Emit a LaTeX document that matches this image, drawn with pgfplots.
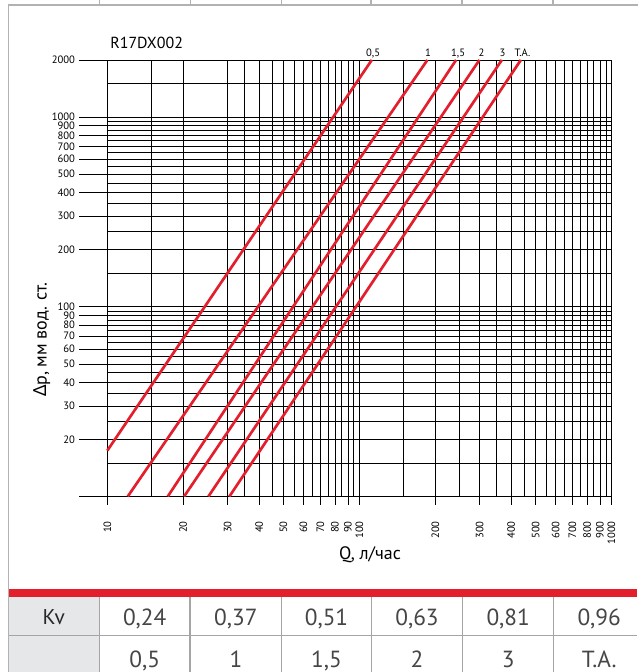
\documentclass[border=0pt]{standalone}
\usepackage{fontspec}
\setmainfont{PT Sans}
\newfontfamily\greekfont{Noto Sans}
\newfontfamily\lightfont{PT Sans}
\usepackage{pgfplots}
\pgfplotsset{compat=1.18}
\definecolor{cred}{RGB}{227,30,45}
\definecolor{framegray}{RGB}{178,178,178}
\definecolor{tsep}{RGB}{165,165,165}
\definecolor{tbg}{RGB}{230,231,233}
\definecolor{ttext}{RGB}{40,40,40}
\definecolor{tlight}{RGB}{70,70,70}
\newcommand\tickfont{\fontsize{8}{8}\selectfont}
\begin{document}
\begin{tikzpicture}[x=0.75pt,y=0.75pt]
\useasboundingbox (0,0) rectangle (637,672);
\fill[white] (0,0) rectangle (637,672);
% frame
\draw[framegray, line width=1.1pt] (8.3,0) -- (8.3,667) -- (640,667);
\foreach \xx in {99.3,190.7,281.7,371,462,553} \draw[framegray, line width=0.8pt] (\xx,667) -- (\xx,672);
% title
\node[anchor=base west, inner sep=0pt, font=\fontsize{12}{12}\selectfont] at (110,623.7) {R17DX002};
\begin{axis}[
  at={(80.475pt,131.625pt)}, anchor=south west,
  scale only axis, width=378.15pt, height=327.4pt,
  xmode=log, ymode=log,
  xmin=10, xmax=1000, ymin=10, ymax=2000,
  xtick={10,20,30,40,50,60,70,80,90,100,200,300,400,500,600,700,800,900,1000},
  xticklabels={10,20,30,40,50,60,70,80,90,100,200,300,400,500,600,700,800,900,1000},
  minor xtick={15,35,45,55,65,75,85,95,150,250,350,450,550,650,750,850,950},
  ytick={10,20,30,40,50,60,70,80,90,100,200,300,400,500,600,700,800,900,1000,2000},
  yticklabels={,20,30,40,50,60,70,80,90,100,200,300,400,500,600,700,800,900,1000,2000},
  minor ytick={15,25,35,45,55,65,75,85,95,150,250,350,450,550,650,750,850,950,1500},
  grid=both,
  major grid style={black, line width=0.5pt},
  minor grid style={black, line width=0.5pt},
  axis line style={black, line width=0.6pt},
  major tick length=0pt, minor tick length=0pt,
  tick align=inside,
  xticklabel shift=18.4pt, yticklabel shift=24pt,
  xticklabel style={rotate=90, anchor=east, inner sep=0pt, font=\tickfont},
  yticklabel style={anchor=east, inner sep=0pt, font=\tickfont},
  /pgf/number format/assume math mode=true,
  xlabel={Q, л/час},
  ylabel={{\greekfont Δ}p, мм вод. ст.},
  xlabel style={at={(axis description cs:0.521,-0.134)}, anchor=center, font=\fontsize{13.5}{13.5}\selectfont},
  ylabel style={at={(axis description cs:-0.1295,0.3585)}, anchor=center, font=\fontsize{13.5}{13.5}\selectfont},
  clip=false,
]
\addplot[cred, line width=2pt] coordinates {(10,17.45) (112.0,2000)} node[pos=1, anchor=base, yshift=2.5pt, xshift=1pt, text=black, font=\tickfont] {0,5};
\addplot[cred, line width=2pt] coordinates {(12.05,10) (186.1,2000)} node[pos=1, anchor=base, yshift=2.5pt, xshift=0.5pt, text=black, font=\tickfont] {1};
\addplot[cred, line width=2pt] coordinates {(17.37,10) (241.9,2000)} node[pos=1, anchor=base, yshift=2.5pt, xshift=1.5pt, text=black, font=\tickfont] {1,5};
\addplot[cred, line width=2pt] coordinates {(20.16,10) (299.4,2000)} node[pos=1, anchor=base, yshift=2.5pt, xshift=1.5pt, text=black, font=\tickfont] {2};
\addplot[cred, line width=2pt] coordinates {(25.17,10) (367.4,2000)} node[pos=1, anchor=base, yshift=2.5pt, xshift=0.5pt, text=black, font=\tickfont] {3};
\addplot[cred, line width=2pt] coordinates {(30.49,10) (437.0,2000)} node[pos=1, anchor=base, yshift=2.5pt, xshift=1.2pt, text=black, font=\tickfont] {T.A.};
\pgfplotsinvokeforeach{10,20,30,40,50,60,70,80,90,100,200,300,400,500,600,700,800,900,1000}{
  \draw[black, line width=0.5pt] (axis cs:#1,10) -- ++(0pt,-6.75pt);
}
\pgfplotsinvokeforeach{10,20,30,40,50,60,70,80,90,100,200,300,400,500,600,700,800,900,1000,2000}{
  \draw[black, line width=0.5pt] (axis cs:10,#1) -- ++(-21pt,0pt);
}
\end{axis}
% table
\fill[cred] (8.3,75.3) rectangle (637,82.7);
\fill[tbg] (8.3,0) rectangle (99.3,75.3);
\draw[tsep, line width=0.8pt] (8.3,36.3) -- (637,36.3);
\foreach \xx in {99.3,190,281.7,371.3,462.7,553.7} \draw[tsep, line width=0.8pt] (\xx,0) -- (\xx,75.3);
\draw[framegray, line width=1.1pt] (8.3,0) -- (8.3,82.7);
\node[anchor=base, inner sep=0pt, text=ttext, font=\fontsize{16}{16}\selectfont] at (53.8,47) {Kv};
\foreach \xx/\v in {144.7/{0,24},235.9/{0,37},326.5/{0,51},417/{0,63},508.2/{0,81},599.2/{0,96}}
  \node[anchor=base, inner sep=0pt, text=tlight, font=\lightfont\fontsize{17.5}{17.5}\selectfont] at (\xx,46) {\v};
\foreach \xx/\v in {144.7/{0,5},235.9/{1},326.5/{1,5},417/{2},508.2/{3},599.2/{T.A.}}
  \node[anchor=base, inner sep=0pt, text=tlight, font=\lightfont\fontsize{17.5}{17.5}\selectfont] at (\xx,4.7) {\v};
\end{tikzpicture}
\end{document}
